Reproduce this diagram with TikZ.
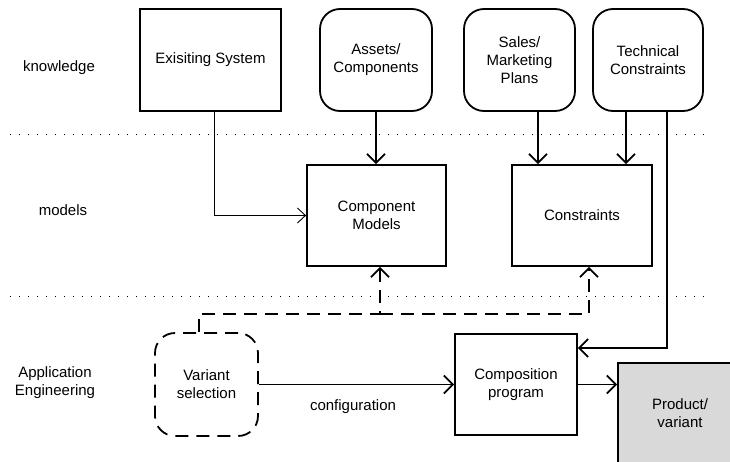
\documentclass[tikz,border=0pt]{standalone}
\usepackage{fontspec}
\setmainfont{Liberation Sans}
\usetikzlibrary{arrows.meta}
\begin{document}
\begin{tikzpicture}[x=1pt,y=-1pt,
  every node/.style={font=\fontsize{15}{18}\selectfont, align=center},
  box/.style={draw, line width=1.8pt, inner sep=0pt},
  rbox/.style={box, rounded corners=20pt},
  conn/.style={line width=1.8pt},
  tip/.style={-{Straight Barb[length=9pt,width=18pt,line width=1.8pt]}},
  thintip/.style={-{Straight Barb[length=8pt,width=15pt,line width=0.9pt]}},
  dashedconn/.style={conn, dash pattern=on 13pt off 8pt},
  dotline/.style={line width=0.8pt, dash pattern=on 0.8pt off 8.2pt},
  label/.style={}
]
\clip (0,0) rectangle (730,461);
\fill[white] (0,0) rectangle (730,461);

% dotted separators
\coordinate (d1a) at (10,134); \coordinate (d1b) at (710,134);
\coordinate (d2a) at (10,296); \coordinate (d2b) at (710,296);
\draw[dotline] (d1a) -- (d1b);
\draw[dotline] (d2a) -- (d2b);

% row labels
\node[label] (lk) at (59,68) {knowledge};
\node[label] (lm) at (63,210) {models};
\node[label] (la) at (55,383) {Application\\Engineering};

% knowledge row
\node[box, minimum width=141pt, minimum height=102pt] (exist) at (210.5,60) {Exisiting System};
\node[rbox, minimum width=112pt, minimum height=102pt] (assets) at (376,60) {Assets/\\Components};
\node[rbox, minimum width=111pt, minimum height=102pt] (sales) at (519.5,60) {Sales/\\Marketing\\Plans};
\node[rbox, minimum width=110pt, minimum height=102pt] (tech) at (648,60) {Technical\\Constraints};

% models row
\node[box, minimum width=139pt, minimum height=101pt] (cmodels) at (376.5,215.5) {Component\\Models};
\node[box, minimum width=140pt, minimum height=101pt] (constr) at (582,215.5) {Constraints};

% application row
\node[box, rounded corners=20pt, dash pattern=on 13pt off 8pt, minimum width=103pt, minimum height=103pt] (variant) at (206.5,384.5) {Variant\\selection};
\node[box, minimum width=122pt, minimum height=101pt] (comp) at (516,384.5) {Composition\\program};
\node[box, fill=black!15, minimum width=124pt, minimum height=100pt] (product) at (680,413) {Product/\\variant};

% connectors
\coordinate (e1) at ([xshift=3.5pt]exist.south);
\draw[line width=0.9pt, thintip] (e1) |- (cmodels.west);
\draw[conn, tip] (assets.south) -- (assets.south |- cmodels.north);

\coordinate (s1) at ([xshift=18.5pt]sales.south);
\draw[conn, tip] (s1) -- (s1 |- constr.north);

\coordinate (t1) at ([xshift=-22pt]tech.south);
\coordinate (t2) at ([xshift=19pt]tech.south);
\draw[conn, tip] (t1) -- (t1 |- constr.north);
\coordinate (c1) at ([yshift=36.5pt]comp.east);
\draw[conn, tip] (t2) |- (c1);

\draw[conn, tip] (variant.east) -- (comp.west);
\node[label] (cfg) at (353,407) {configuration};
\draw[conn, tip] (comp.east) -- (comp.east -| product.west);

% dashed selection links
\coordinate (v1) at ([xshift=-7.5pt]variant.north);
\coordinate (j) at (380,314);
\coordinate (k) at ([xshift=7pt]constr.south);
\draw[dashedconn, tip] (v1) |- (j) -- (j |- cmodels.south);
\draw[dashedconn, tip] (j) -| (k);
\end{tikzpicture}
\end{document}
